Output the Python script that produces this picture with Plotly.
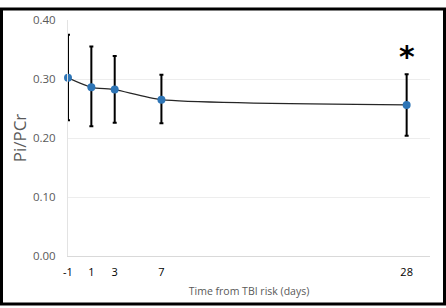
import plotly.graph_objects as go

days = [-1, 1, 3, 7, 28]
ratio = [0.302, 0.286, 0.282, 0.265, 0.256]
err_up = [0.073, 0.069, 0.057, 0.042, 0.052]
err_down = [0.072, 0.066, 0.056, 0.040, 0.052]
x_ticks = [-1, 1, 3, 7, 28]
x_tick_labels = ["-1", "1", "3", "7", "28"]
y_ticks = [0.0, 0.1, 0.2, 0.3, 0.4]
y_tick_labels = ["0.00", "0.10", "0.20", "0.30", "0.40"]

fig = go.Figure()
fig.add_trace(go.Scatter(
    x=days, y=ratio, mode="lines+markers",
    line=dict(color="#262626", width=1.3, shape="spline", smoothing=0.6),
    marker=dict(color="#2E75B6", size=8),
    error_y=dict(type="data", symmetric=False, array=err_up, arrayminus=err_down,
                 color="#000000", thickness=2, width=2),
    cliponaxis=False,
    showlegend=False,
))

fig.add_annotation(x=28, y=0.308, text="<b>*</b>", showarrow=False,
                   yanchor="bottom", yshift=-2,
                   font=dict(family="DejaVu Sans", size=30, color="#000000"))

W, H = 446, 308
ml, mr, mt, mb = 68, 16, 13, 51
pw, ph = W - ml - mr, H - mt - mb
def px(xp):
    return (xp - ml) / pw
def py(yp):
    return (H - mb - yp) / ph

fig.add_shape(type="rect", xref="paper", yref="paper",
              x0=px(1.5), x1=px(W - 1.5), y0=py(H - 1.5), y1=py(1.5),
              line=dict(color="#000000", width=3), layer="above")

fig.update_layout(
    width=W, height=H,
    margin=dict(l=ml, r=mr, t=mt, b=mb),
    paper_bgcolor="white", plot_bgcolor="white",
    font=dict(family="Open Sans", color="#595959"),
    xaxis=dict(range=[-1, 30], tickmode="array", tickvals=x_ticks, ticktext=x_tick_labels,
               showgrid=False, zeroline=False, showline=True, linecolor="#D9D9D9", linewidth=1,
               ticks="", ticklabelstandoff=6,
               tickfont=dict(size=11, color="#000000", family="Open Sans"),
               title=dict(text="Time from TBI risk (days)", font=dict(size=10.5, color="#595959"),
                          standoff=9)),
    yaxis=dict(range=[0, 0.4], tickmode="array", tickvals=y_ticks, ticktext=y_tick_labels,
               showgrid=True, gridcolor="#EDEDED", gridwidth=1, zeroline=False,
               showline=True, linecolor="#E3E3E3", linewidth=1, ticks="",
               ticklabelstandoff=9,
               tickfont=dict(size=11.5, color="#595959"),
               title=dict(text="Pi/PCr", font=dict(size=17, color="#595959"), standoff=2)),
)

fig.write_html("out.html",
               config={"displayModeBar": False},
               post_script="document.body.style.margin='0';document.body.style.padding='0';"
                           "document.documentElement.style.overflow='hidden';")
